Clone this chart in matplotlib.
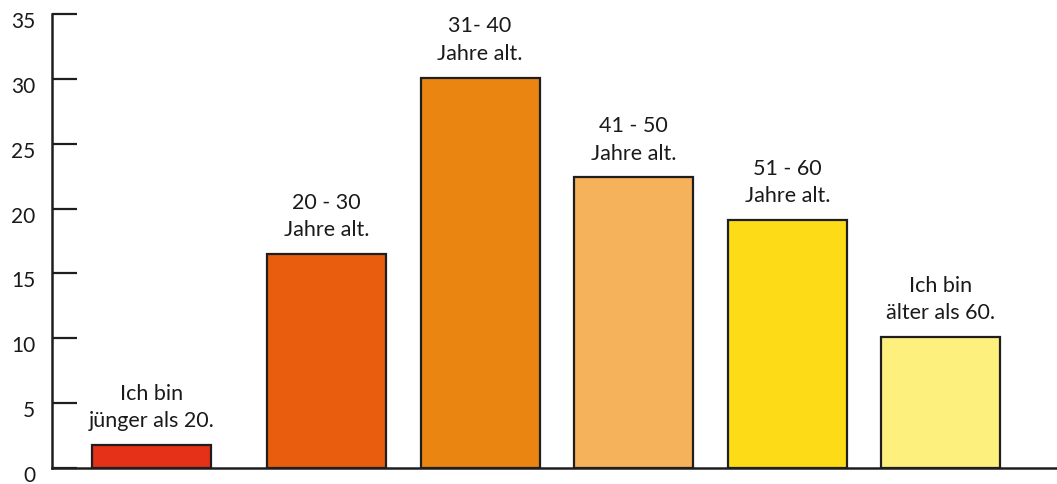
import matplotlib
matplotlib.use('Agg')
import matplotlib.pyplot as plt
from matplotlib.transforms import ScaledTranslation

plt.rcParams['font.family'] = ['Lato', 'DejaVu Sans']

# age groups and share of respondents (%)
labels = ["Ich bin\njünger als 20.", "20 - 30\nJahre alt.", "31- 40\nJahre alt.",
          "41 - 50\nJahre alt.", "51 - 60\nJahre alt.", "Ich bin\nälter als 60."]
values = [1.8, 16.5, 30.1, 22.4, 19.1, 10.1]
colors = ['#E53118', '#E95D0F', '#EB8512', '#F6B25A', '#FDDB17', '#FEF07D']
yticks = [0, 5, 10, 15, 20, 25, 30, 35]

# first bar sits a little further from the rest
xpos = [-0.14, 1, 2, 3, 4, 5]

fig = plt.figure(figsize=(10.57, 4.84), dpi=100)
ax = fig.add_axes([52 / 1057, 16 / 484, 1005 / 1057, 454 / 484])

ax.bar(xpos, values, width=0.775, color=colors, edgecolor='#1e1e1e', linewidth=1.6, zorder=2)

for x, v, lab in zip(xpos, values, labels):
    ax.annotate(lab, (x, v), xytext=(0, 10), textcoords='offset points',
                ha='center', va='bottom', fontsize=15.5, linespacing=1.45, color='#1a1a1a')

ax.set_xlim(-0.787, 5.756)
ax.set_ylim(0, 35)
ax.set_xticks([])
ax.set_yticks(yticks)
ax.tick_params(axis='y', direction='in', length=18, width=1.6, color='#1e1e1e',
               labelsize=15, pad=12, labelcolor='#1a1a1a')

shift = ScaledTranslation(0, -0.06, fig.dpi_scale_trans)
for t in ax.get_yticklabels():
    t.set_transform(t.get_transform() + shift)

for side in ['top', 'right']:
    ax.spines[side].set_visible(False)
for side in ['left', 'bottom']:
    ax.spines[side].set_linewidth(1.8)
    ax.spines[side].set_color('#1e1e1e')

fig.savefig('out.png', dpi=100)
